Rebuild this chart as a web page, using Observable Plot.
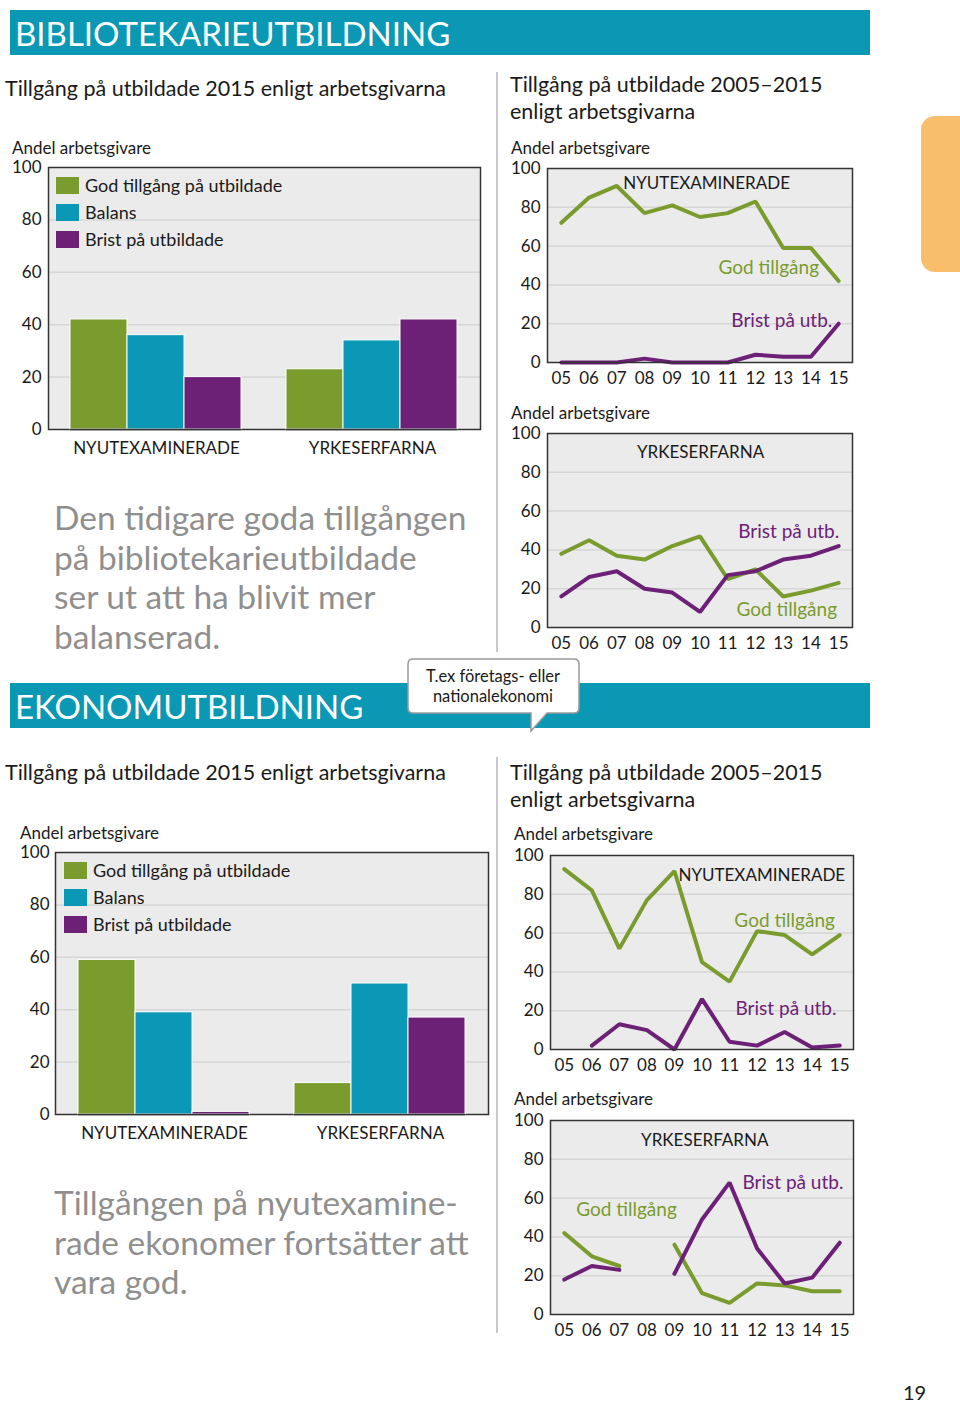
<!DOCTYPE html>
<html><head><meta charset="utf-8">
<script src="https://cdn.jsdelivr.net/npm/d3@7"></script>
<script src="https://cdn.jsdelivr.net/npm/@observablehq/plot@0.6"></script>
<style>
body{margin:0;background:#fff;font-family:Lato,"DejaVu Sans",sans-serif;color:#1a1a1a}
#page{position:relative;width:960px;height:1403px;overflow:hidden;background:#fff}
.hdr{position:absolute;left:10px;width:860px;height:45px;background:#0a98b4;color:#fff;font-size:33px;line-height:47px;padding-left:5px;box-sizing:border-box;white-space:nowrap}
.title{position:absolute;font-size:21.5px;line-height:27px;color:#1a1a1a;white-space:nowrap}
.ylab{position:absolute;font-size:17px;line-height:20px;white-space:nowrap}
.big{position:absolute;font-size:33.5px;line-height:39.5px;color:#8f8f8f;white-space:nowrap}
.vline{position:absolute;left:496px;width:2px;background:#c9c9c9}
.tab{position:absolute;left:921px;top:116px;width:60px;height:156px;border-radius:14px;background:#f9be6c}
.pnum{position:absolute;left:903px;top:1380px;font-size:20px;line-height:24px}
.lg-swatch{padding-bottom:5px !important}
.lg-swatch > svg{margin-right:6px !important}
.lgwrap{position:absolute;width:320px}
</style></head>
<body><div id="page"></div>
<script>
// ---------- data ----------
const groups = ["NYUTEXAMINERADE", "YRKESERFARNA"];
const series = ["God tillgång på utbildade", "Balans", "Brist på utbildade"];
const seriesColors = ["#7a9c2f", "#0a98b6", "#6c2177"];
const yTicks = [0, 20, 40, 60, 80, 100];
const gridVals = [20, 40, 60, 80];
const years = [2005, 2006, 2007, 2008, 2009, 2010, 2011, 2012, 2013, 2014, 2015];

// 2015 bar values [God, Balans, Brist]
const bibNy2015 = [42, 36, 20];
const bibYrk2015 = [23, 34, 42];
const ekoNy2015 = [59, 39, 1];
const ekoYrk2015 = [12, 50, 37];

// 2005-2015 series
const bibNyGod = [72, 85, 91, 77, 81, 75, 77, 83, 59, 59, 42];
const bibNyBrist = [0, 0, 0, 2, 0, 0, 0, 4, 3, 3, 20];
const bibYrkGod = [38, 45, 37, 35, 42, 47, 25, 30, 16, 19, 23];
const bibYrkBrist = [16, 26, 29, 20, 18, 8, 27, 29, 35, 37, 42];
const ekoNyGod = [93, 82, 52, 77, 92, 45, 35, 61, 59, 49, 59];
const ekoNyBrist = [null, 2, 13, 10, 0, 26, 4, 2, 9, 1, 2];
const ekoYrkGod = [42, 30, 25, null, 36, 11, 6, 16, 15, 12, 12];
const ekoYrkBrist = [18, 25, 23, null, 21, 49, 68, 34, 16, 19, 37];

// annotation labels (data coordinates)
const bibNyLabels = [
  {text: "NYUTEXAMINERADE", year: 2010.24, value: 92, kind: "title"},
  {text: "God tillgång", year: 2012.48, value: 49, kind: "god"},
  {text: "Brist på utb.", year: 2012.95, value: 21.6, kind: "brist"}
];
const bibYrkLabels = [
  {text: "YRKESERFARNA", year: 2010.02, value: 90, kind: "title"},
  {text: "Brist på utb.", year: 2013.2, value: 49.5, kind: "brist"},
  {text: "God tillgång", year: 2013.13, value: 9.3, kind: "god"}
];
const ekoNyLabels = [
  {text: "NYUTEXAMINERADE", year: 2012.17, value: 89.7, kind: "title"},
  {text: "God tillgång", year: 2013.0, value: 66.5, kind: "god"},
  {text: "Brist på utb.", year: 2013.05, value: 21.1, kind: "brist"}
];
const ekoYrkLabels = [
  {text: "YRKESERFARNA", year: 2010.1, value: 89.7, kind: "title"},
  {text: "Brist på utb.", year: 2013.3, value: 68, kind: "brist"},
  {text: "God tillgång", year: 2007.26, value: 54, kind: "god"}
];

const GREEN = "#7a9c2f", PURPLE = "#6c2177", BG = "#ebebeb", GRID = "#d6d6d6", FRAME = "#333";
const FONT = "Lato, 'DejaVu Sans', sans-serif";

// ---------- helpers ----------
const page = document.getElementById("page");
function place(node, left, top) {
  node.style.position = "absolute";
  node.style.left = left + "px";
  node.style.top = top + "px";
  page.appendChild(node);
  return node;
}
function div(cls, text, left, top, extra) {
  const d = document.createElement("div");
  d.className = cls;
  d.innerHTML = text;
  d.style.left = left + "px";
  d.style.top = top + "px";
  if (extra) Object.assign(d.style, extra);
  page.appendChild(d);
  return d;
}
const baseStyle = {fontFamily: FONT, fontSize: "17px", color: "#1a1a1a", background: "transparent", overflow: "visible"};

function barChart(vals, {left, top, width, ml, tickPad, labelDy}) {
  const rows = groups.flatMap((g, gi) => series.map((s, si) => ({group: g, series: s, value: vals[gi][si]})));
  const dims = {width, height: 304, marginLeft: ml, marginRight: 2, marginTop: 12, marginBottom: 30};
  const band = {paddingInner: 0.208, paddingOuter: 0.104};
  const base = Plot.plot({
    ...dims, style: baseStyle,
    x: {domain: groups, ...band, axis: null},
    y: {domain: [0, 100], ticks: yTicks, tickSize: 0, tickPadding: tickPad, label: null},
    marks: [
      Plot.frame({fill: BG}),
      Plot.ruleY(gridVals, {stroke: GRID, strokeWidth: 1.5}),
      Plot.text(groups, {x: d => d, frameAnchor: "bottom", dy: labelDy, fontSize: 17, fill: "#1a1a1a"}),
      Plot.frame({stroke: FRAME, strokeWidth: 1.5})
    ]
  });
  place(base, left, top);
  const over = Plot.plot({
    ...dims, style: baseStyle,
    facet: {data: rows, x: "group"},
    fx: {domain: groups, ...band, axis: null, label: null},
    x: {domain: series, paddingInner: 0, paddingOuter: 0, axis: null},
    y: {domain: [0, 100], axis: null},
    color: {domain: series, range: seriesColors},
    marks: [
      Plot.barY(rows, {x: "series", y: "value", fill: "series", stroke: "white", strokeWidth: 1}),
      Plot.ruleY([0], {stroke: FRAME, strokeWidth: 1.5})
    ]
  });
  place(over, left, top);
}

function legend(left, top) {
  const lg = Plot.legend({
    color: {domain: series, range: seriesColors},
    legend: "swatches", columns: 1, swatchWidth: 23, swatchHeight: 17,
    className: "lg", style: {fontFamily: FONT, fontSize: "18px", color: "#1a1a1a"}
  });
  const w = document.createElement("div");
  w.className = "lgwrap";
  w.appendChild(lg);
  place(w, left, top);
}

function lineChart(god, brist, labels, {left, top, ml, mr}) {
  const godRows = years.map((y, i) => ({year: y, value: god[i]}));
  const bristRows = years.map((y, i) => ({year: y, value: brist[i]}));
  const chart = Plot.plot({
    width: 360, height: 240, marginLeft: ml, marginRight: mr, marginTop: 18, marginBottom: 28,
    style: baseStyle,
    x: {domain: [2004.5, 2015.5], ticks: years, tickFormat: d => String(d).slice(2), tickSize: 0, tickPadding: 9, label: null},
    y: {domain: [0, 100], ticks: yTicks, tickSize: 0, tickPadding: 7, label: null},
    marks: [
      Plot.frame({fill: BG}),
      Plot.ruleY(gridVals, {stroke: GRID, strokeWidth: 1.5}),
      Plot.line(godRows, {x: "year", y: "value", stroke: GREEN, strokeWidth: 4, strokeLinejoin: "miter"}),
      Plot.line(bristRows, {x: "year", y: "value", stroke: PURPLE, strokeWidth: 4, strokeLinejoin: "miter"}),
      Plot.text(labels.filter(d => d.kind === "title"), {x: "year", y: "value", text: "text", fontSize: 17, fill: "#1a1a1a"}),
      Plot.text(labels.filter(d => d.kind === "god"), {x: "year", y: "value", text: "text", fontSize: 19, fill: GREEN}),
      Plot.text(labels.filter(d => d.kind === "brist"), {x: "year", y: "value", text: "text", fontSize: 19, fill: PURPLE}),
      Plot.frame({stroke: FRAME, strokeWidth: 1.5})
    ]
  });
  place(chart, left, top);
}

// ---------- page ----------
div("hdr", "BIBLIOTEKARIEUTBILDNING", 0, 10, {left: "10px"});
div("hdr", "EKONOMUTBILDNING", 0, 683, {left: "10px"});
div("tab", "", 921, 116);
div("vline", "", 496, 72, {height: "580px"});
div("vline", "", 496, 757, {height: "576px"});

// Bibliotekarie
div("title", "Tillgång på utbildade 2015 enligt arbetsgivarna", 5, 75);
div("ylab", "Andel arbetsgivare", 12, 138);
barChart([bibNy2015, bibYrk2015], {left: 0, top: 155, width: 482, ml: 48, tickPad: 7, labelDy: 24});
legend(56, 174);
div("big", "Den tidigare goda tillgången<br>på bibliotekarieutbildade<br>ser ut att ha blivit mer<br>balanserad.", 54, 498);

div("title", "Tillgång på utbildade 2005–2015<br>enligt arbetsgivarna", 510, 71);
div("ylab", "Andel arbetsgivare", 511, 138);
lineChart(bibNyGod, bibNyBrist, bibNyLabels, {left: 500, top: 150, ml: 47, mr: 8});
div("ylab", "Andel arbetsgivare", 511, 403);
lineChart(bibYrkGod, bibYrkBrist, bibYrkLabels, {left: 500, top: 415, ml: 47, mr: 8});

// Ekonom
div("title", "Tillgång på utbildade 2015 enligt arbetsgivarna", 5, 759);
div("ylab", "Andel arbetsgivare", 20, 823);
barChart([ekoNy2015, ekoYrk2015], {left: 0, top: 840, width: 490, ml: 55, tickPad: 6, labelDy: 24});
legend(64, 859);
div("big", "Tillgången på nyutexamine-<br>rade ekonomer fortsätter att<br>vara god.", 54, 1183);

div("title", "Tillgång på utbildade 2005–2015<br>enligt arbetsgivarna", 510, 759);
div("ylab", "Andel arbetsgivare", 514, 824);
lineChart(ekoNyGod, ekoNyBrist, ekoNyLabels, {left: 500, top: 837, ml: 50, mr: 7});
div("ylab", "Andel arbetsgivare", 514, 1089);
lineChart(ekoYrkGod, ekoYrkBrist, ekoYrkLabels, {left: 500, top: 1102, ml: 50, mr: 7});

// callout bubble
const ns = "http://www.w3.org/2000/svg";
const bub = document.createElementNS(ns, "svg");
bub.setAttribute("width", 180); bub.setAttribute("height", 85);
bub.innerHTML = '<path d="M7,1 H168 Q173,1 173,6 V50 Q173,55 168,55 H141 L125,73 V55 H7 Q2,55 2,50 V6 Q2,1 7,1 Z" fill="#fff" stroke="#9a9a9a" stroke-width="1.5"/>';
place(bub, 406, 658);
div("", "T.ex företags- eller<br>nationalekonomi", 408, 666, {position: "absolute", width: "170px", textAlign: "center", fontSize: "16.5px", lineHeight: "20px"});

div("pnum", "19", 903, 1380);
</script>
</body></html>
